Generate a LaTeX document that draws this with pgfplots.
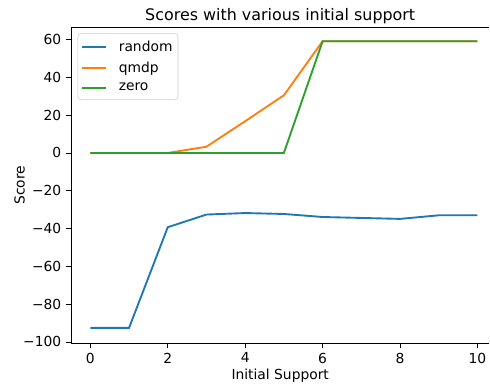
\documentclass[border=0pt]{standalone}
\usepackage{pgfplots}
\pgfplotsset{compat=1.18}
\usepackage{fontspec}
\setmainfont{DejaVu Sans}
\definecolor{tabblue}{HTML}{1F77B4}
\definecolor{taborange}{HTML}{FF7F0E}
\definecolor{tabgreen}{HTML}{2CA02C}
\begin{document}
\begin{tikzpicture}
\begin{axis}[
  scale only axis,
  width=301.3bp, height=227.5bp,
  xmin=-0.5, xmax=10.31,
  ymin=-100.6, ymax=66.6,
  axis x line=box, axis y line=left,
  axis line style={-, line width=0.6pt},
  xtick pos=bottom, ytick pos=left,
  tick align=outside,
  major tick length=3.5bp,
  every tick/.style={black, line width=0.6pt},
  xtick={0,2,4,6,8,10},
  ytick={-100,-80,-60,-40,-20,0,20,40,60},
  yticklabels={−100,−80,−60,−40,−20,0,20,40,60},
  /pgf/number format/assume math mode=true,
  tick label style={font=\fontsize{10}{12}\selectfont},
  xlabel={Initial Support},
  ylabel={Score},
  label style={font=\fontsize{10}{12}\selectfont},
  xlabel style={yshift=3pt},
  ylabel style={yshift=-8pt},
  title={Scores with various initial support},
  title style={font=\fontsize{11.5}{14}\selectfont, yshift=-7pt},
  legend style={at={(0.016,0.98)}, anchor=north west, draw=black!20, rounded corners=2pt,
    font=\fontsize{10}{12}\selectfont, row sep=2.2pt, inner xsep=2pt, inner ysep=3pt,
    nodes={inner xsep=2pt}},
  legend cell align=left,
  legend image code/.code={\draw[#1, line width=1.35bp] (0cm,0cm) -- (0.63cm,0cm); \path (0.85cm,0cm);},
  every axis plot/.append style={line width=1.35bp, mark=none},
]
\addplot[color=tabblue] coordinates {(0,-92.6) (1,-92.6) (2,-39.3) (3,-32.6) (4,-31.8) (5,-32.3) (6,-33.9) (7,-34.4) (8,-34.9) (9,-33.0) (10,-33.0)};
\addlegendentry{random}
\addplot[color=taborange] coordinates {(0,0) (1,0) (2,0) (3,3.3) (4,16.8) (5,30.5) (6,59.1) (7,59.1) (8,59.1) (9,59.1) (10,59.1)};
\addlegendentry{qmdp}
\addplot[color=tabgreen] coordinates {(0,0) (1,0) (2,0) (3,0) (4,0) (5,0) (6,59.1) (7,59.1) (8,59.1) (9,59.1) (10,59.1)};
\addlegendentry{zero}
\end{axis}
\pgfresetboundingbox
\path (current axis.south west) ++(-51.1bp,-29.5bp) rectangle ++(352.8bp,276.5bp);
\end{tikzpicture}
\end{document}
